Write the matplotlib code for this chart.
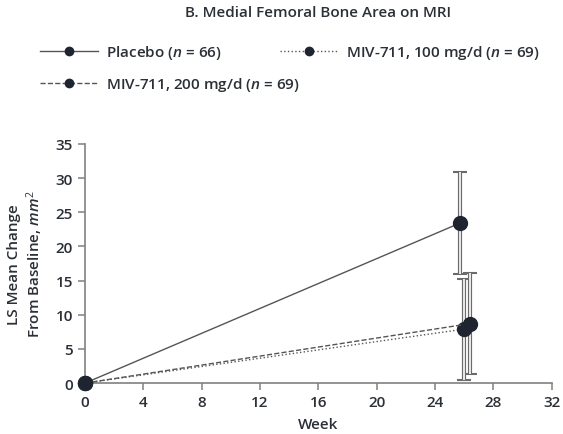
import numpy as np
import matplotlib
matplotlib.use("Agg")
from matplotlib import pyplot as plt

plt.rcParams['font.family'] = ['Open Sans', 'DejaVu Sans']
plt.rcParams['mathtext.fontset'] = 'custom'
plt.rcParams['mathtext.it'] = 'Open Sans:italic:semibold'
plt.rcParams['mathtext.rm'] = 'Open Sans'

# data
weeks_placebo = [0, 25.7]
weeks_100 = [0, 26.0]
weeks_200 = [0, 26.4]
placebo = [0, 23.4]
dose_100 = [0, 7.9]
dose_200 = [0, 8.7]
err_placebo = [0, 7.5]
err_100 = [0, 7.4]
err_200 = [0, 7.4]

labels = ["Placebo ($n$ = 66)",
          "MIV-711, 200 mg/d ($n$ = 69)",
          "MIV-711, 100 mg/d ($n$ = 69)"]

ink = '#2b2f36'
grey = '#555555'
dot = '#1e2530'

fig = plt.figure(figsize=(5.63, 4.35), dpi=100)
ax = fig.add_axes([0.151, 0.117, 0.829, 0.55])

def series(x, y, err, ls, label):
    # outlined error bars: dark stroke with a white core
    ax.errorbar(x[1:], y[1:], yerr=err[1:], fmt='none', ecolor='#6a6a6a',
                elinewidth=3.0, capsize=5, capthick=1.5, zorder=2, clip_on=False)
    ax.errorbar(x[1:], y[1:], yerr=err[1:], fmt='none', ecolor='white',
                elinewidth=1.2, capsize=0, zorder=2.1, clip_on=False)
    h, = ax.plot(x, y, linestyle=ls, color=grey, lw=1.0, marker='o',
                 markersize=10, markerfacecolor=dot, markeredgecolor=dot,
                 zorder=3, clip_on=False, label=label)
    return h

h1 = series(weeks_placebo, placebo, err_placebo, '-', labels[0])
h3 = series(weeks_100, dose_100, err_100, ':', labels[2])
h2 = series(weeks_200, dose_200, err_200, '--', labels[1])

ax.set_xlim(0, 32)
ax.set_ylim(0, 35)
ax.set_xticks(np.arange(0, 33, 4))
ax.set_yticks(np.arange(0, 36, 5))
for s in ['top', 'right']:
    ax.spines[s].set_visible(False)
for s in ['left', 'bottom']:
    ax.spines[s].set_color('#808080')
    ax.spines[s].set_linewidth(1.2)
ax.tick_params(direction='out', length=5, width=1.1, color='#808080',
               labelcolor=ink, labelsize=11)
for t in ax.get_xticklabels() + ax.get_yticklabels():
    t.set_fontweight('semibold')

ax.set_xlabel('Week', fontsize=11, color=ink, fontweight='semibold', labelpad=6)
ax.set_ylabel('LS Mean Change\nFrom Baseline, $mm^2$', fontsize=11, color=ink,
              fontweight='semibold', labelpad=8)

fig.text(0.565, 0.97, 'B. Medial Femoral Bone Area on MRI', ha='center',
         va='center', fontsize=11, color=ink, fontweight='semibold')

# legend entries placed one by one, as in the reference
spots = [(40, 53), (40, 85), (280, 53)]
for h, lab, (px, py) in zip([h1, h2, h3], labels, spots):
    leg = fig.legend([h], [lab], loc='center left',
                     bbox_to_anchor=(px / 563, 1 - py / 435), frameon=False,
                     fontsize=11, handlelength=3.8, handletextpad=0.55,
                     borderpad=0, borderaxespad=0, markerscale=0.6,
                     prop={'size': 11, 'weight': 'semibold'})
    for t in leg.get_texts():
        t.set_color(ink)

fig.savefig('out.png', dpi=100)
